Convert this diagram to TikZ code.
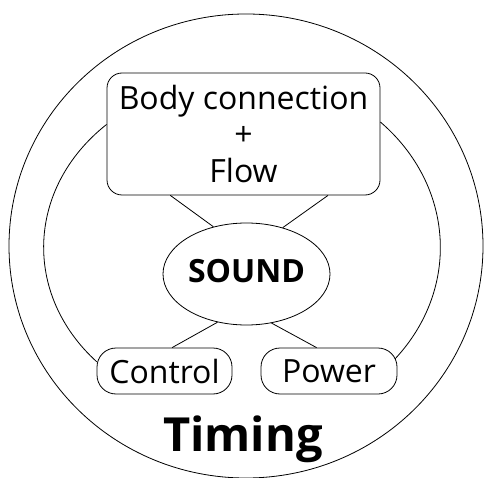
\documentclass[tikz,border=0pt]{standalone}
\usepackage{fontspec}
\setmainfont{Open Sans}
\usetikzlibrary{shapes.geometric}
\begin{document}
\begin{tikzpicture}[x=1pt,y=1pt,
  line width=0.8pt,
  txt/.style={font=\fontsize{32}{36.5}\selectfont},
  bigbox/.style={draw, fill=white, rounded corners=15pt, inner sep=0pt,
    minimum width=273pt, minimum height=122pt, align=center, txt},
  smallbox/.style={draw, fill=white, rounded corners=19pt, inner sep=0pt,
    minimum width=135pt, minimum height=46pt, txt},
  core/.style={draw, fill=white, ellipse, inner sep=0pt,
    minimum width=167pt, minimum height=102pt,
    font=\fontsize{32}{36}\selectfont\bfseries, text height=22pt, text depth=6pt},
  link/.style={draw}
]
\useasboundingbox (0,0) rectangle (484,477);
% outer ring
\draw (246,231) ellipse [x radius=237, y radius=232];
% nodes
\node[bigbox] (body) at (243.5,343) {Body connection\\+\\Flow};
\node[core] (sound) at (246.5,203) {SOUND};
\node[smallbox] (control) at (164.5,106) {Control};
\node[smallbox, minimum width=136pt] (power) at (329,106) {Power};
\node[font=\fontsize{47}{52}\selectfont\bfseries, anchor=base, inner sep=0pt] (timing) at (243,26) {Timing};
% inner ring arcs
\draw (body.176) arc[start angle=133, end angle=223, x radius=198, y radius=168];
\draw (body.5) arc[start angle=45.8, end angle=-39.5, x radius=198, y radius=175];
% connectors
\draw[link] (body.220) -- (sound.125);
\draw[link] (body.324) -- (sound.52);
\draw[link] (sound.239) -- (control.72);
\draw[link] (sound.297) -- (power.118);
\end{tikzpicture}
\end{document}
